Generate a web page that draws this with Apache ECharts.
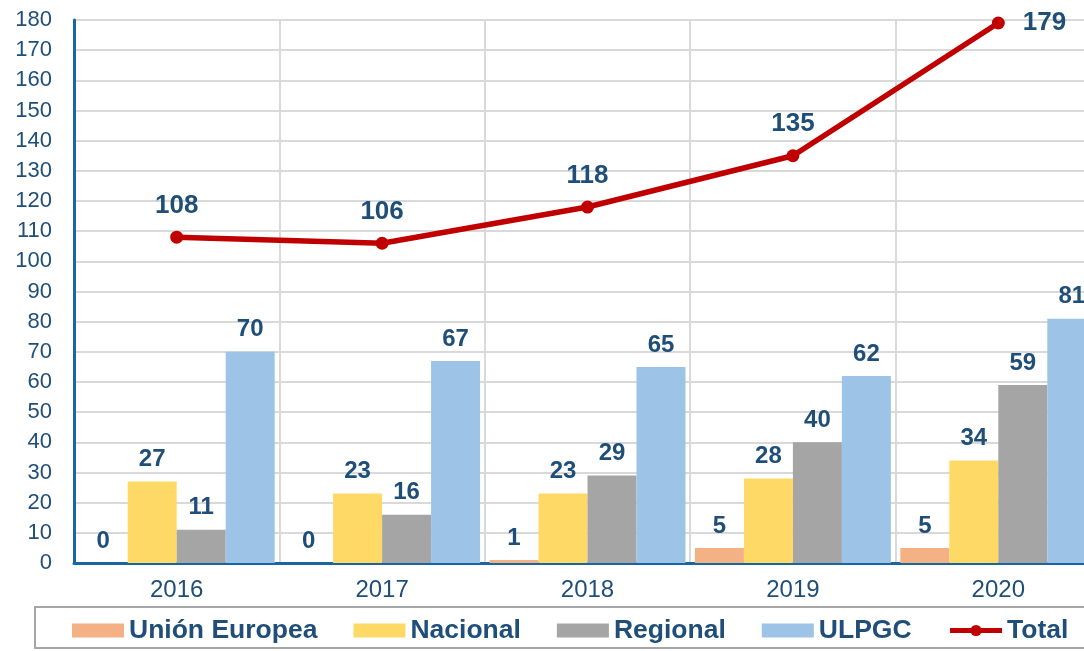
<!DOCTYPE html>
<html>
<head>
<meta charset="utf-8">
<script src="https://cdn.jsdelivr.net/npm/echarts@6/dist/echarts.min.js"></script>
<style>
  html, body { margin: 0; padding: 0; background: #fff; }
  #chart { width: 1084px; height: 651px; }
</style>
</head>
<body>
<div id="chart"></div>
<script>
  // datos
  var years = ['2016', '2017', '2018', '2019', '2020'];
  var unionEuropea = [0, 0, 1, 5, 5];
  var nacional = [27, 23, 23, 28, 34];
  var regional = [11, 16, 29, 40, 59];
  var ulpgc = [70, 67, 65, 62, 81];
  var total = [108, 106, 118, 135, 179];

  var txtColor = '#1F4E79';
  var font = '"Liberation Sans", Arial, sans-serif';

  var barLabel = {
    show: true,
    position: 'top',
    distance: 10,
    color: txtColor,
    fontWeight: 'bold',
    fontSize: 24,
    fontFamily: font
  };

  function bar(name, data, color) {
    return {
      name: name,
      type: 'bar',
      data: data,
      barGap: 0,
      barCategoryGap: '4.6%',
      itemStyle: { color: color },
      label: barLabel
    };
  }

  var chart = echarts.init(document.getElementById('chart'));
  chart.setOption({
    animation: false,
    textStyle: { fontFamily: font },
    // el área del gráfico sigue más allá del borde derecho
    grid: { left: 74, width: 1027, top: 20, bottom: 88, outerBoundsMode: 'none' },
    graphic: [{
      type: 'rect',
      z: -1,
      shape: { x: 35, y: 607, width: 1100, height: 41 },
      style: { fill: 'none', stroke: '#A6A6A6', lineWidth: 2 }
    }],
    legend: {
      left: 72,
      top: 617,
      padding: 0,
      itemGap: 36,
      itemWidth: 52,
      itemHeight: 14,
      textStyle: { color: txtColor, fontSize: 26.5, fontWeight: 'bold', fontFamily: font },
      data: [
        { name: 'Unión Europea', icon: 'rect' },
        { name: 'Nacional', icon: 'rect' },
        { name: 'Regional', icon: 'rect' },
        { name: 'ULPGC', icon: 'rect' },
        { name: 'Total', lineStyle: { width: 5 } }
      ]
    },
    xAxis: {
      type: 'category',
      data: years,
      axisTick: { show: false },
      axisLine: { lineStyle: { color: '#1A66A0', width: 3 } },
      axisLabel: { color: txtColor, fontSize: 24, margin: 15, fontFamily: font },
      splitLine: { show: true, lineStyle: { color: '#D9D9D9', width: 2 } }
    },
    yAxis: {
      type: 'value',
      min: 0,
      max: 180,
      interval: 10,
      axisLine: { show: true, lineStyle: { color: '#1A66A0', width: 3 } },
      axisTick: { show: false },
      axisLabel: { color: txtColor, fontSize: 22, margin: 22, fontFamily: font },
      splitLine: { lineStyle: { color: '#D9D9D9', width: 2 } }
    },
    series: [
      bar('Unión Europea', unionEuropea, '#F4B183'),
      bar('Nacional', nacional, '#FFD966'),
      bar('Regional', regional, '#A5A5A5'),
      bar('ULPGC', ulpgc, '#9DC3E6'),
      {
        name: 'Total',
        type: 'line',
        data: total.map(function (v, i) {
          if (i === total.length - 1) {
            return { value: v, label: { position: 'right', distance: 18 } };
          }
          return v;
        }),
        symbol: 'circle',
        symbolSize: 13,
        lineStyle: { color: '#C00000', width: 5.5 },
        itemStyle: { color: '#C00000' },
        label: {
          show: true,
          position: 'top',
          distance: 12,
          color: txtColor,
          fontWeight: 'bold',
          fontSize: 26,
          fontFamily: font
        },
        z: 5
      }
    ]
  });
</script>
</body>
</html>
